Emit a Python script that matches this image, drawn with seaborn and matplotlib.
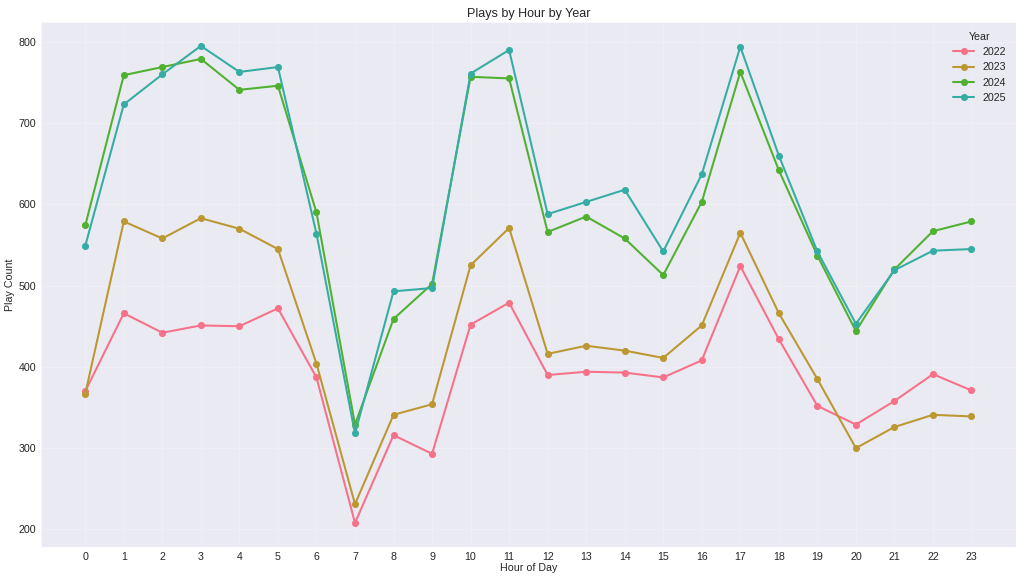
import matplotlib
matplotlib.use("Agg")
import matplotlib.pyplot as plt
import seaborn as sns
import pandas as pd

# hourly play counts per year
hours = list(range(24))
plays_2022 = [370, 466, 442, 451, 450, 472, 387, 208, 316, 293, 452, 479,
              390, 394, 393, 387, 408, 524, 434, 352, 329, 358, 391, 371]
plays_2023 = [367, 579, 558, 583, 570, 545, 404, 231, 341, 354, 525, 571,
              416, 426, 420, 411, 451, 565, 466, 385, 300, 326, 341, 339]
plays_2024 = [574, 759, 769, 779, 741, 746, 590, 329, 459, 502, 757, 755,
              566, 585, 558, 513, 603, 763, 642, 537, 444, 520, 567, 579]
plays_2025 = [549, 723, 760, 795, 763, 769, 564, 318, 493, 497, 761, 790,
              588, 603, 618, 542, 637, 794, 660, 542, 453, 519, 543, 545]
years = ["2022", "2023", "2024", "2025"]

df = pd.concat([
    pd.DataFrame({"hour": hours, "plays": vals, "year": yr})
    for yr, vals in zip(years, [plays_2022, plays_2023, plays_2024, plays_2025])
])

sns.set_style("darkgrid")
plt.rcParams["font.family"] = ["Liberation Sans", "DejaVu Sans"]
palette = sns.color_palette("husl", 6)[:4]

fig, ax = plt.subplots(figsize=(16, 581 / 64), dpi=64)
sns.lineplot(data=df, x="hour", y="plays", hue="year", palette=palette,
             marker="o", markersize=8, markeredgewidth=0, linewidth=2.3, ax=ax)

ax.set_xticks(hours)
ax.set_title("Plays by Hour by Year", fontsize=14, pad=6)
ax.set_xlabel("Hour of Day", fontsize=12, labelpad=2)
ax.set_ylabel("Play Count", fontsize=12, labelpad=4)
ax.tick_params(labelsize=12, pad=2)
ax.grid(True, alpha=0.3)
ax.legend(title="Year", fontsize=12, title_fontsize=12, frameon=False, loc="upper right")

fig.subplots_adjust(left=0.040, right=0.992, top=0.962, bottom=0.059)
plt.savefig("out.png", dpi=64)
